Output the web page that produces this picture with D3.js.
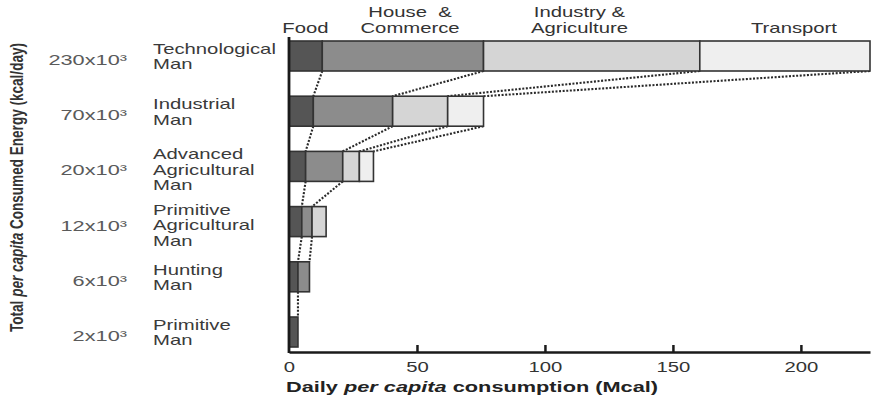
<!DOCTYPE html>
<html>
<head>
<meta charset="utf-8">
<script src="https://cdn.jsdelivr.net/npm/d3@7"></script>
<style>
  html, body { margin: 0; padding: 0; background: #fff; }
  svg { display: block; font-family: "Liberation Sans", Arial, sans-serif; }
</style>
</head>
<body>
<svg id="chart" width="874" height="401"></svg>
<script>
// ---------- data ----------
const categories = ["Technological Man", "Industrial Man", "Advanced Agricultural Man",
                    "Primitive Agricultural Man", "Hunting Man", "Primitive Man"];
const categoryLines = [["Technological", "Man"], ["Industrial", "Man"],
                       ["Advanced", "Agricultural", "Man"], ["Primitive", "Agricultural", "Man"],
                       ["Hunting", "Man"], ["Primitive", "Man"]];
const energyLabels = ["230x10\u00B3", "70x10\u00B3", "20x10\u00B3", "12x10\u00B3", "6x10\u00B3", "2x10\u00B3"];
const seriesNames = ["Food", "House & Commerce", "Industry & Agriculture", "Transport"];
const seriesHeaders = [["Food"], ["House  &", "Commerce"], ["Industry &", "Agriculture"], ["Transport"]];
const food      = [13, 9.5, 6.5, 5, 3.5, 3.5];
const house     = [63, 31, 14.5, 4, 4.5, 0];
const industry  = [84.5, 21.5, 6.5, 5.5, 0, 0];
const transport = [66.5, 14, 5.5, 0, 0, 0];
const connectorCounts = [4, 4, 2, 2, 1];   // dotted links between consecutive bars
const xTicks = [0, 50, 100, 150, 200];
const xTitle = ["Daily ", "per capita", " consumption (Mcal)"];
const yTitle = ["Total ", "per capita", " Consumed Energy (kcal/day)"];

// ---------- layout ----------
const SX = 1.45;
const colors = ["#555555", "#8c8c8c", "#d5d5d5", "#efefef"];
const svg = d3.select("#chart");

const x = d3.scaleLinear().domain([0, 227]).range([289, 870]);
const y = d3.scaleBand().domain(categories).range([41, 347]).paddingInner(0.4565).paddingOuter(0);

const rows = categories.map((c, i) => ({
  cat: c, Food: food[i], "House & Commerce": house[i],
  "Industry & Agriculture": industry[i], Transport: transport[i]
}));
const stacked = d3.stack().keys(seriesNames)(rows);

// dotted connectors
const cum = rows.map((r, i) => stacked.map(s => s[i][1]));
const links = [];
connectorCounts.forEach((n, i) => {
  for (let k = 0; k < n; k++) {
    links.push({ x1: x(cum[i][k]), y1: y(categories[i]) + y.bandwidth(),
                 x2: x(cum[i + 1][k]), y2: y(categories[i + 1]) });
  }
});
svg.append("g").selectAll("line").data(links).join("line")
  .attr("x1", d => d.x1).attr("y1", d => d.y1)
  .attr("x2", d => d.x2).attr("y2", d => d.y2)
  .attr("stroke", "#2a2a2a").attr("stroke-width", 2.1)
  .attr("stroke-dasharray", "2,1.6");

// bars
svg.append("g").selectAll("g").data(stacked).join("g")
  .attr("fill", (d, i) => colors[i])
  .selectAll("rect").data(d => d.filter(p => p[1] - p[0] > 0)).join("rect")
  .attr("x", d => x(d[0]))
  .attr("y", d => y(d.data.cat))
  .attr("width", d => x(d[1]) - x(d[0]))
  .attr("height", y.bandwidth())
  .attr("stroke", "#333").attr("stroke-width", 1.6);

// x axis
const xAxis = svg.append("g").attr("transform", "translate(0,352)")
  .call(d3.axisBottom(x).tickValues(xTicks).tickSizeInner(-7).tickSizeOuter(0));
xAxis.select(".domain").attr("stroke", "#1a1a1a").attr("stroke-width", 2.5);
xAxis.selectAll(".tick line").attr("stroke", "#1a1a1a").attr("stroke-width", 2.5)
  .attr("display", d => d === 0 ? "none" : null);
xAxis.selectAll(".tick text")
  .attr("y", 0).attr("dy", 0)
  .attr("transform", "translate(0,20) scale(" + SX + ",1)")
  .attr("font-size", 14).attr("font-family", "Liberation Sans, Arial, sans-serif")
  .attr("fill", "#333");

// left axis line
svg.append("line").attr("x1", x(0)).attr("x2", x(0)).attr("y1", 37).attr("y2", 353)
  .attr("stroke", "#1a1a1a").attr("stroke-width", 2.8);

// category labels
const catG = svg.append("g").selectAll("g").data(categoryLines).join("g")
  .attr("transform", (d, i) => {
    const c = y(categories[i]) + y.bandwidth() / 2;
    const first = c - 2 - (d.length - 2) * 5;
    return "translate(153," + first + ") scale(" + SX + ",1)";
  });
catG.append("text").attr("font-size", 14).attr("fill", "#3a3a3a")
  .selectAll("tspan").data(d => d).join("tspan")
  .attr("x", 0).attr("dy", (d, i) => i === 0 ? 0 : 15.5).text(d => d);

// energy labels
svg.append("g").selectAll("text").data(energyLabels).join("text")
  .attr("transform", (d, i) => "translate(127," + (y(categories[i]) + y.bandwidth() / 2 + 9) + ") scale(" + SX + ",1)")
  .attr("text-anchor", "end").attr("font-size", 15).attr("fill", "#5a5a5a")
  .text(d => d);

// series headers above technological bar
const headerPos = [6.4, 47.3, 113.5, 197.3];
const hdr = svg.append("g").selectAll("g").data(seriesHeaders).join("g")
  .attr("transform", (d, i) => "translate(" + x(headerPos[i]) + "," + (d.length === 2 ? 17 : 33) + ") scale(" + SX + ",1)");
hdr.append("text").attr("font-size", 14).attr("fill", "#333").attr("text-anchor", "middle")
  .style("white-space", "pre")
  .selectAll("tspan").data(d => d).join("tspan")
  .attr("x", 0).attr("dy", (d, i) => i === 0 ? 0 : 16).text(d => d);

// x title
const xt = svg.append("text")
  .attr("transform", "translate(472,392) scale(" + SX + ",1)")
  .attr("text-anchor", "middle").attr("font-size", 15).attr("font-weight", "bold").attr("fill", "#222");
xt.selectAll("tspan").data(xTitle).join("tspan")
  .attr("font-style", (d, i) => i === 1 ? "italic" : "normal")
  .style("white-space", "pre").text(d => d);

// y title
const yt = svg.append("text")
  .attr("transform", "translate(23,332) scale(" + SX + ",1) rotate(-90)")
  .attr("text-anchor", "start").attr("font-size", 12.5).attr("font-weight", "bold")
  .attr("fill", "#333")
  .attr("textLength", 289).attr("lengthAdjust", "spacingAndGlyphs");
yt.selectAll("tspan").data(yTitle).join("tspan")
  .attr("font-style", (d, i) => i === 1 ? "italic" : "normal")
  .style("white-space", "pre").text(d => d);
</script>
</body>
</html>
